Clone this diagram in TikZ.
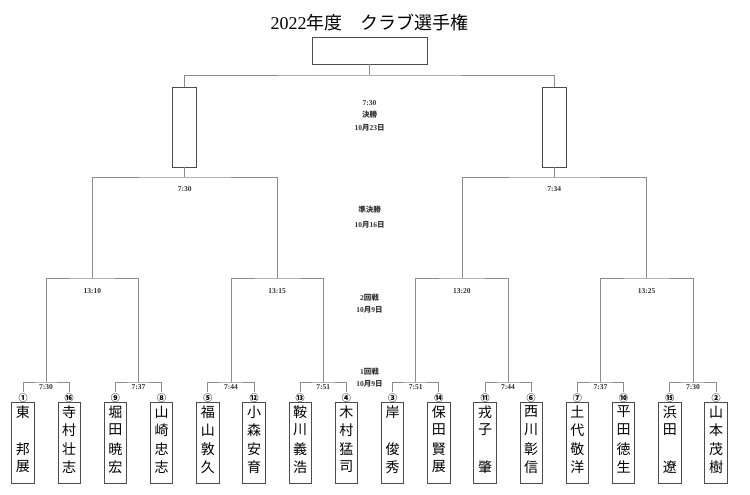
\documentclass[tikz,border=0pt]{standalone}
\usepackage{fontspec}
\setmainfont{Liberation Serif}
\newfontfamily\jp{Noto Sans CJK JP}
\newcommand\J[1]{{\jp #1}}
\tikzset{
  ln/.style={draw=black!45, line width=0.7pt},
  pbox/.style={draw=black!70, line width=0.9pt, minimum width=22.5pt, minimum height=81pt, inner sep=0pt},
  sbox/.style={draw=black!70, line width=0.9pt, minimum width=24pt, minimum height=80pt, inner sep=0pt},
  cbox/.style={draw=black!70, line width=0.9pt, minimum width=115pt, minimum height=27pt, inner sep=0pt},
  nm/.style={font=\jp\fontsize{14}{14}\selectfont, inner sep=0pt},
  num/.style={font=\jp\bfseries\fontsize{9}{9}\selectfont, inner sep=2pt},
  tm/.style={font=\bfseries\fontsize{7.5}{8}\selectfont, text=black!80, inner sep=0pt},
  ttl/.style={font=\fontsize{18}{18}\selectfont, inner sep=0pt},
}
\newcommand\player[7]{%
  \node[pbox] (p#1) at (#2,442.5) {};
  \node[num] (n#1) at (#2,398) {#3};
  \node[nm] (c#1a) at (#2,412) {#4};
  \node[nm] (c#1b) at (#2,430) {#5};
  \node[nm] (c#1c) at (#2,449) {#6};
  \node[nm] (c#1d) at (#2,467) {#7};
}
\begin{document}
\begin{tikzpicture}[x=1pt,y=-1pt]
\useasboundingbox (0,0) rectangle (750,495);
% title
\node[ttl] (title) at (369.5,23) {2022\J{年度　クラブ選手権}};
% players
\player{1}{23.0}{①}{東}{}{邦}{展}
\player{2}{69.2}{⑯}{寺}{村}{壮}{志}
\player{3}{115.4}{⑨}{堀}{田}{暁}{宏}
\player{4}{161.6}{⑧}{山}{崎}{忠}{志}
\player{5}{207.8}{⑤}{福}{山}{敦}{久}
\player{6}{254.0}{⑫}{小}{森}{安}{育}
\player{7}{300.2}{⑬}{鞍}{川}{義}{浩}
\player{8}{346.4}{④}{木}{村}{猛}{司}
\player{9}{392.6}{③}{岸}{}{俊}{秀}
\player{10}{438.8}{⑭}{保}{田}{賢}{展}
\player{11}{485.0}{⑪}{戎}{子}{}{肇}
\player{12}{531.2}{⑥}{西}{川}{彰}{信}
\player{13}{577.4}{⑦}{土}{代}{敬}{洋}
\player{14}{623.6}{⑩}{平}{田}{徳}{生}
\player{15}{669.8}{⑮}{浜}{田}{}{遼}
\player{16}{716.0}{②}{山}{本}{茂}{樹}
% junction coordinates
\coordinate (m1) at (46.1,382);
\coordinate (m2) at (138.5,382);
\coordinate (m3) at (230.9,382);
\coordinate (m4) at (323.3,382);
\coordinate (m5) at (415.7,382);
\coordinate (m6) at (508.1,382);
\coordinate (m7) at (600.5,382);
\coordinate (m8) at (692.9,382);
\coordinate (q1) at (92.3,278);
\coordinate (q2) at (277.1,278);
\coordinate (q3) at (461.9,278);
\coordinate (q4) at (646.7,278);
\coordinate (s1) at (184.7,177);
\coordinate (s2) at (554.3,177);
\coordinate (f) at (369.5,75);
% round 1
\draw[ln] (n1.north) |- (m1) -| (n2.north);
\draw[ln] (n3.north) |- (m2) -| (n4.north);
\draw[ln] (n5.north) |- (m3) -| (n6.north);
\draw[ln] (n7.north) |- (m4) -| (n8.north);
\draw[ln] (n9.north) |- (m5) -| (n10.north);
\draw[ln] (n11.north) |- (m6) -| (n12.north);
\draw[ln] (n13.north) |- (m7) -| (n14.north);
\draw[ln] (n15.north) |- (m8) -| (n16.north);
% round 2
\draw[ln] (m1) |- (q1) -| (m2);
\draw[ln] (m3) |- (q2) -| (m4);
\draw[ln] (m5) |- (q3) -| (m6);
\draw[ln] (m7) |- (q4) -| (m8);
% semis
\draw[ln] (q1) |- (s1) -| (q2);
\draw[ln] (q3) |- (s2) -| (q4);
\node[sbox] (sb1) at (184.7,127) {};
\node[sbox] (sb2) at (554.3,127) {};
\draw[ln] (s1) -- (sb1.south);
\draw[ln] (s2) -- (sb2.south);
% final
\node[cbox] (cb) at (369.5,50.5) {};
\draw[ln] (sb1.north) |- (f) -| (sb2.north);
\draw[ln] (f) -- (cb.south);
% time labels
\node[tm] (t1) at (46.1,387) {7:30};
\node[tm] (t2) at (138.5,387) {7:37};
\node[tm] (t3) at (230.9,387) {7:44};
\node[tm] (t4) at (323.3,387) {7:51};
\node[tm] (t5) at (415.7,387) {7:51};
\node[tm] (t6) at (508.1,387) {7:44};
\node[tm] (t7) at (600.5,387) {7:37};
\node[tm] (t8) at (692.9,387) {7:30};
\node[tm] (u1) at (92.3,291) {13:10};
\node[tm] (u2) at (277.1,291) {13:15};
\node[tm] (u3) at (461.9,291) {13:20};
\node[tm] (u4) at (646.7,291) {13:25};
\node[tm] (v1) at (184.7,189) {7:30};
\node[tm] (v2) at (554.3,189) {7:34};
% round labels
\node[tm] (fa) at (369.5,103) {7:30};
\node[tm] (fb) at (369.5,115) {\J{決勝}};
\node[tm] (fc) at (369.5,128) {10\J{月}23\J{日}};
\node[tm] (sa) at (369.5,210) {\J{準決勝}};
\node[tm] (sbl) at (369.5,225) {10\J{月}16\J{日}};
\node[tm] (ra) at (369.5,298) {2\J{回戦}};
\node[tm] (rb) at (369.5,310) {10\J{月}9\J{日}};
\node[tm] (ka) at (369.5,372) {1\J{回戦}};
\node[tm] (kb) at (369.5,384) {10\J{月}9\J{日}};
\end{tikzpicture}
\end{document}
